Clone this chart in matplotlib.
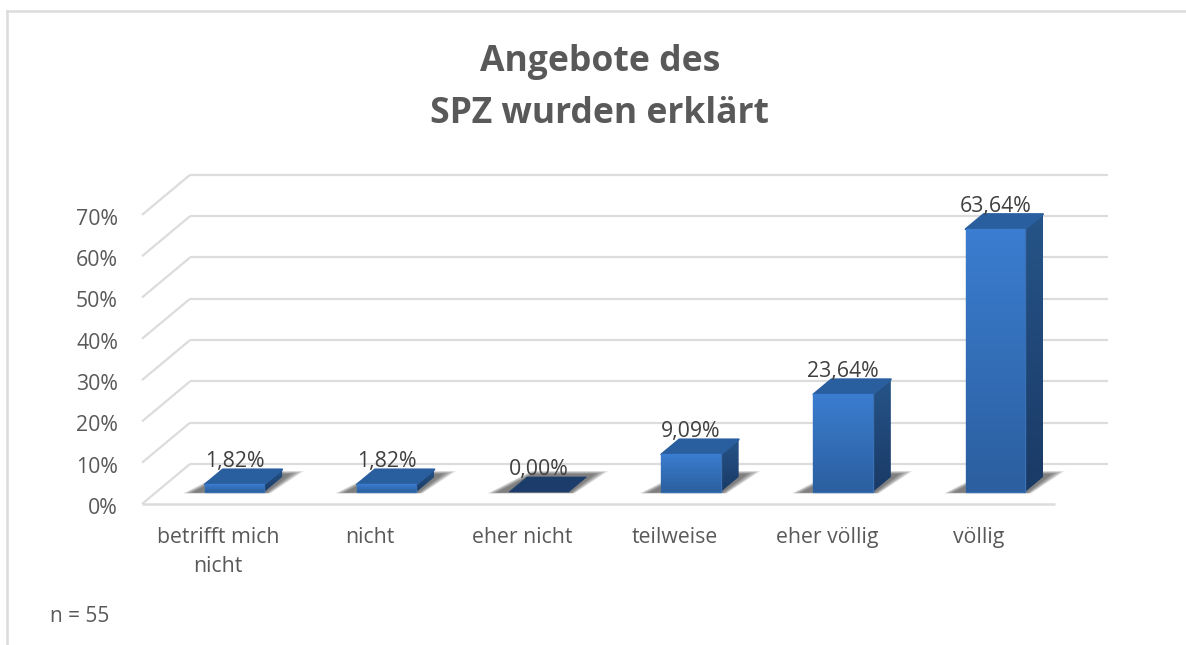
import numpy as np
import matplotlib
matplotlib.use("Agg")
import matplotlib.pyplot as plt
from matplotlib.patches import Polygon

categories = ["betrifft mich\nnicht", "nicht", "eher nicht", "teilweise", "eher völlig", "völlig"]
values = [1.82, 1.82, 0.00, 9.09, 23.64, 63.64]
value_labels = ["1,82%", "1,82%", "0,00%", "9,09%", "23,64%", "63,64%"]
y_ticks = [0, 10, 20, 30, 40, 50, 60, 70]
title = "Angebote des\nSPZ wurden erklärt"
note = "n = 55"

W, H = 1186, 645
# one category band and one percent in pixels
BAND = 152.17
PCT = 4.13
X0, Y0 = 142, 504
# depth of the 3d box, in data units
DX = 48 / BAND
DY = 40 / PCT
BAR_W = 0.39

plt.rcParams['font.family'] = ['Open Sans', 'DejaVu Sans']
fig = plt.figure(figsize=(W / 100, H / 100), dpi=100)
ax = fig.add_axes([0, 0, 1, 1])
ax.set_xlim(-X0 / BAND, (W - X0) / BAND)
ax.set_ylim((Y0 - H) / PCT, Y0 / PCT)
ax.axis('off')

GRID = '#dcdcdc'
TXT = '#595959'


def gradient(poly, top, bottom, zorder):
    # vertical gradient clipped to a polygon
    xs, ys = zip(*poly)
    c0 = np.array(matplotlib.colors.to_rgb(top))
    c1 = np.array(matplotlib.colors.to_rgb(bottom))
    t = np.linspace(0, 1, 64)[:, None, None]
    img = c0[None, None, :] * (1 - t) + c1[None, None, :] * t
    im = ax.imshow(img, extent=(min(xs), max(xs), min(ys), max(ys)), aspect='auto',
                   origin='upper', zorder=zorder, interpolation='bilinear')
    patch = Polygon(poly, closed=True, transform=ax.transData, fc='none', ec='none')
    ax.add_patch(patch)
    im.set_clip_path(patch)


# floor and walls
for v in y_ticks:
    ax.plot([DX, 6 + DX + 5 / BAND], [v + DY, v + DY], color=GRID, lw=1.6, zorder=1, solid_capstyle='butt')
    ax.plot([0, DX], [v, v + DY], color=GRID, lw=1.6, zorder=1, solid_capstyle='butt')
ax.plot([0, 6], [0, 0], color=GRID, lw=1.8, zorder=1, solid_capstyle='butt')

for v in y_ticks:
    ax.text(-24 / BAND, v - 4.5 / PCT, f"{v}%", ha='right', va='center', fontsize=15.3, color=TXT)

# bars
off_x = 0.3 * DX + 2 / BAND
off_y = 0.3 * DY
dep_x = 0.375 * DX
dep_y = 0.375 * DY
for i, (v, lab, cat) in enumerate(zip(values, value_labels, categories)):
    left = i + 0.5 - BAR_W / 2 + off_x
    right = left + BAR_W
    base = off_y
    top = base + v

    # soft shadow on the floor, layered polygons shrinking towards the bar
    for k in range(12):
        f = k / 11
        s = [(left - (22 - 10 * f) / BAND, base - (1.5 - f) / PCT),
             (right + (6 - 4 * f) / BAND, base - (1.5 - f) / PCT),
             (right + (40 - 14 * f) / BAND, base + (21 - 3 * f) / PCT),
             (left + (22 + 2 * f) / BAND, base + (21 - 3 * f) / PCT)]
        ax.add_patch(Polygon(s, closed=True, fc='#333333', ec='none', alpha=0.075, zorder=2))

    if v == 0:
        ax.add_patch(Polygon([(left, base), (right, base), (right + dep_x, base + dep_y),
                              (left + dep_x, base + dep_y)], closed=True, fc='#1c3d6b',
                             ec='#1c3d6b', lw=0.5, zorder=3))
    else:
        # front, side, top faces
        gradient([(right, base), (right + dep_x, base + dep_y), (right + dep_x, top + dep_y),
                  (right, top)], '#265488', '#1a3a66', 3)
        ax.add_patch(Polygon([(left, top), (right, top), (right + dep_x, top + dep_y),
                              (left + dep_x, top + dep_y)], closed=True, fc='#2a5f9f',
                             ec='#2a5f9f', lw=1.5, joinstyle='round', zorder=3))
        ax.add_patch(Polygon([(left, base), (right, base), (right, top), (left, top)], closed=True,
                             fc='none', ec='#3a70b4', lw=1, joinstyle='round', zorder=4))
        gradient([(left, base), (right, base), (right, top), (left, top)], '#3b7dd0', '#2b5f9f', 4)

    ax.text(i + 0.5 + off_x, top + dep_y - 3 / PCT, lab, ha='center', va='bottom',
            fontsize=15.3, color='#404040', zorder=5)
    ax.text(i + 0.5, -23 / PCT, cat, ha='center', va='top',
            fontsize=15.3, color=TXT, linespacing=1.5, zorder=5)

# frame and title
fig.add_artist(plt.Line2D([7 / W, 7 / W], [0, 1 - 11 / H], color=GRID, lw=1.8))
fig.add_artist(plt.Line2D([7 / W, 1], [1 - 11 / H, 1 - 11 / H], color=GRID, lw=1.8))
fig.text(600 / W, 1 - 88 / H, title, ha='center', va='center', fontsize=25.6, fontweight='bold',
         color=TXT, linespacing=1.6)
fig.text(50 / W, 1 - 617 / H, note, ha='left', va='center', fontsize=15, color=TXT)

fig.savefig('out.png', dpi=100)
